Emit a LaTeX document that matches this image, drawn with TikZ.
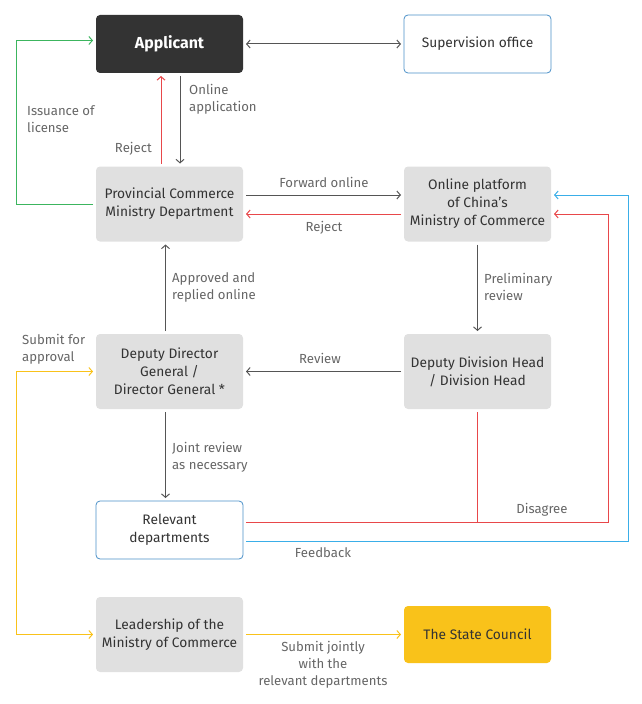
\documentclass[tikz,border=0pt]{standalone}
\usepackage{fontspec}
\setmainfont{Fira Sans}
\usetikzlibrary{arrows.meta}
\definecolor{darkbox}{HTML}{333333}
\definecolor{graybox}{HTML}{E0E0E0}
\definecolor{nodetxt}{HTML}{333333}
\definecolor{labtxt}{HTML}{666666}
\definecolor{grayline}{HTML}{555555}
\definecolor{redline}{HTML}{E8474A}
\definecolor{greenline}{HTML}{3CB55E}
\definecolor{blueline}{HTML}{3AAEE8}
\definecolor{blueborder}{HTML}{4A90C8}
\definecolor{yellowc}{HTML}{F9C21A}
\begin{document}
\begin{tikzpicture}[x=1bp,y=-1bp,
  box/.style={rounded corners=4bp, minimum width=147bp, align=center, outer sep=3bp,
    font=\fontsize{13.8}{18}\selectfont, text=nodetxt},
  graynode/.style={box, fill=graybox, minimum height=75bp},
  whitenode/.style={box, draw=blueborder, line width=0.8bp, fill=white, minimum height=58bp},
  lab/.style={font=\fontsize{13.2}{17}\selectfont, text=labtxt, align=left, inner sep=0pt},
  conn/.style={line width=1bp, arrows={-Straight Barb[length=3.5bp,width=8bp]}},
  grayarr/.style={conn, draw=grayline},
  redarr/.style={conn, draw=redline},
  greenarr/.style={conn, draw=greenline},
  bluearr/.style={conn, draw=blueline},
  yelarr/.style={conn, draw=yellowc}]
\useasboundingbox (0,0) rectangle (642,704);

\node[box, fill=darkbox, minimum height=58bp, text=white, font=\fontsize{16}{18}\selectfont\bfseries] (app) at (169.5,44) {Applicant};
\node[whitenode] (sup) at (477.5,44) {Supervision office};
\node[graynode] (prov) at (169.5,204) {Provincial Commerce\\Ministry Department};
\node[graynode] (plat) at (477.5,204) {Online platform\\of China's\\Ministry of Commerce};
\node[graynode] (ddir) at (169.5,371.5) {Deputy Director\\General /\\Director General *};
\node[graynode] (ddiv) at (477.5,371.5) {Deputy Division Head\\/ Division Head};
\node[whitenode] (rel) at (169.5,530) {Relevant\\departments};
\node[graynode] (lead) at (169.5,634.5) {Leadership of the\\Ministry of Commerce};
\node[box, fill=yellowc, minimum height=57bp] (state) at (477.5,634.5) {The State Council};

% connectors
\draw[grayarr, arrows={Straight Barb[length=3.5bp,width=8bp]-Straight Barb[length=3.5bp,width=8bp]}] (app) -- (sup);
\draw[grayarr] ([xshift=10.5bp]app.south) -- ([xshift=10.5bp]prov.north);
\draw[redarr] ([xshift=-8.5bp]prov.north) -- ([xshift=-8.5bp]app.south);
\coordinate (gl) at (16.5,40.5);
\draw[greenarr] (prov.west) -| (gl) -- (gl -| app.west);
\draw[grayarr] ([yshift=9bp]prov.east) -- ([yshift=9bp]plat.west);
\draw[redarr] ([yshift=-10bp]plat.west) -- ([yshift=-10bp]prov.east);
\draw[grayarr] (plat.south) -- (ddiv.north);
\draw[grayarr] (ddiv.west) -- (ddir.west -| ddir.east);
\draw[grayarr] ([xshift=-4bp]ddir.north) -- ([xshift=-4bp]prov.south);
\draw[grayarr] ([xshift=-4bp]ddir.south) -- ([xshift=-4bp]rel.north);
\coordinate (rr) at (608.5,522.5);
\draw[redarr] (rel.east |- rr) -- (rr) |- ([yshift=-10bp]plat.east);
\draw[draw=redline, line width=1bp] (ddiv.south) -- (ddiv.south |- rr);
\coordinate (bb) at (628.5,541.5);
\draw[bluearr] (rel.east |- bb) -- (bb) |- ([yshift=9bp]plat.east);
\coordinate (yl) at (16.5,634.5);
\draw[yelarr, arrows={Straight Barb[length=3.5bp,width=8bp]-Straight Barb[length=3.5bp,width=8bp]}] (ddir.west) -| (yl) -- (lead.west);
\draw[yelarr] (lead) -- (state);

% labels
\node[lab, anchor=west] (l1) at (189,99) {Online\\application};
\node[lab, anchor=east] (l2) at (152,149) {Reject};
\node[lab, anchor=west] (l3) at (27,119) {Issuance of\\license};
\node[lab] (l4) at (324,182) {Forward online};
\node[lab] (l5) at (324,228) {Reject};
\node[lab, anchor=west] (l6) at (484,287) {Preliminary\\review};
\node[lab, anchor=west] (l7) at (172,287) {Approved and\\replied online};
\node[lab] (l8) at (320,358) {Review};
\node[lab, anchor=west] (l9) at (22,349) {Submit for\\approval};
\node[lab, anchor=west] (l10) at (172,457) {Joint review\\as necessary};
\node[lab] (l11) at (542,510) {Disagree};
\node[lab] (l12) at (323,553) {Feedback};
\node[lab, align=center] (l13) at (323,665) {Submit jointly\\with the\\relevant departments};
\end{tikzpicture}
\end{document}
